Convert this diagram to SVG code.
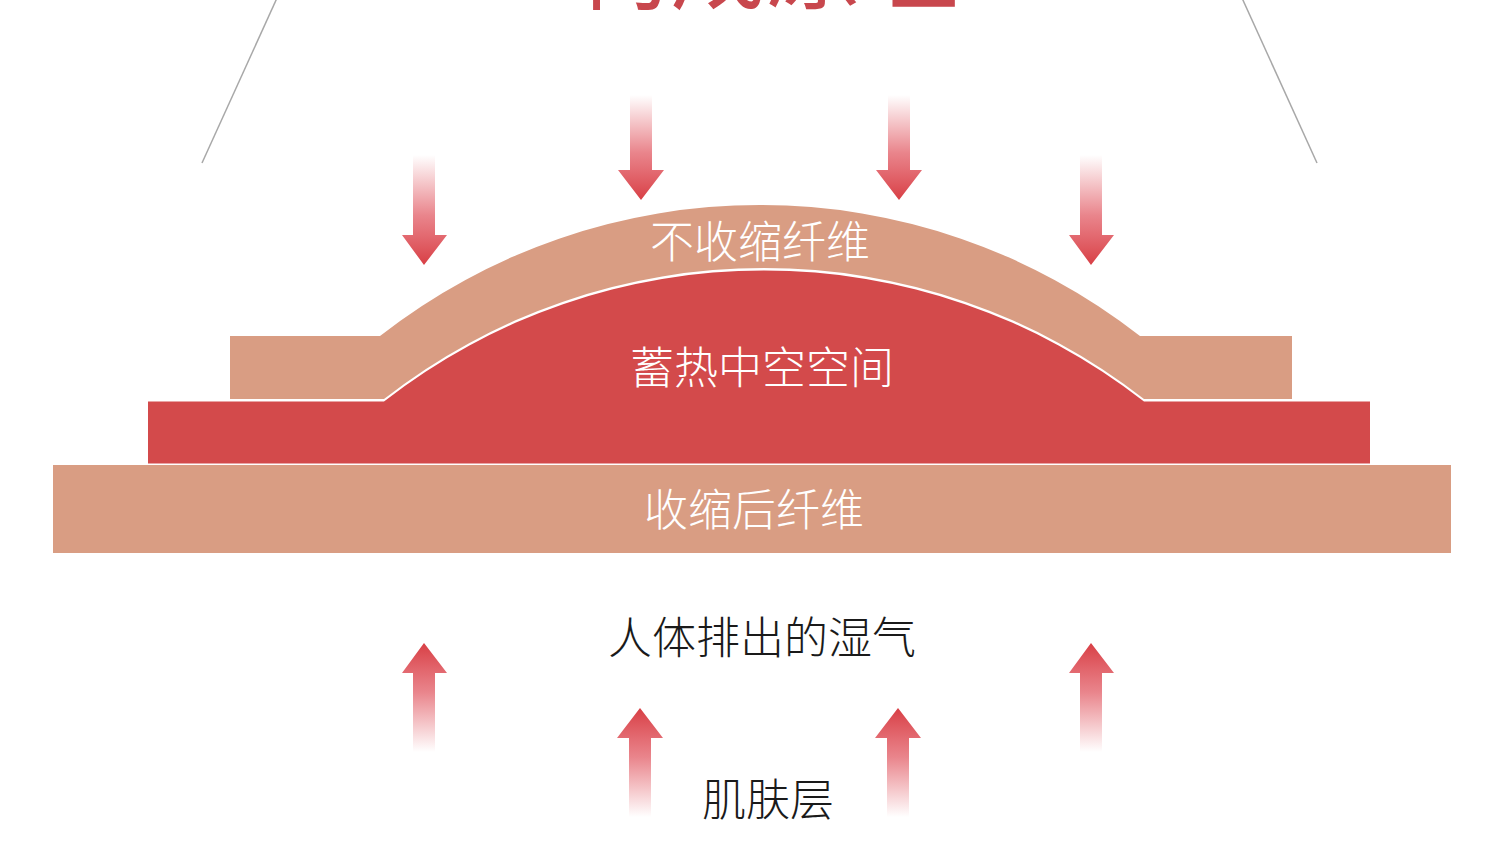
<svg xmlns="http://www.w3.org/2000/svg" width="1500" height="849" viewBox="0 0 1500 849">
<style>
.lbl{font-family:"Noto Sans CJK SC","Noto Sans CJK JP",sans-serif;font-size:44px;font-weight:300;text-anchor:middle}
.w{fill:#ffffff}
.k{fill:#1a1a1a}
.tan{fill:#d99d83}
.red{fill:#d34a4b}
.guide{stroke:#a8a8a8;stroke-width:1.5;fill:none}
</style>
<defs>
<linearGradient id="gDown" x1="0" y1="0" x2="0" y2="1">
<stop offset="0" stop-color="#e0505a" stop-opacity="0"/>
<stop offset="0.55" stop-color="#e0505a" stop-opacity="0.7"/>
<stop offset="1" stop-color="#d83f45" stop-opacity="1"/>
</linearGradient>
<linearGradient id="gUp" x1="0" y1="1" x2="0" y2="0">
<stop offset="0" stop-color="#e0505a" stop-opacity="0"/>
<stop offset="0.55" stop-color="#e0505a" stop-opacity="0.7"/>
<stop offset="1" stop-color="#d83f45" stop-opacity="1"/>
</linearGradient>
</defs>
<rect width="1500" height="849" fill="#ffffff"/>

<g id="title">
<text x="766" y="1" font-family="Noto Sans CJK SC, sans-serif" font-size="96" fill="#c8474d" text-anchor="middle">构成原理</text>
</g>

<g id="guides">
<line class="guide" x1="277" y1="-2" x2="202" y2="163"/>
<line class="guide" x1="1242" y1="-2" x2="1317" y2="163"/>
</g>

<g id="layer-bottom">
<rect class="tan" x="53" y="465" width="1398" height="88"/>
<text class="lbl w" x="754" y="526">收缩后纤维</text>
</g>

<g id="layer-hollow">
<path class="red" d="M148,401.5 H384 A616.6,616.6 0 0 1 1144,401.5 H1370 V463.5 H148 Z"/>
<text class="lbl w" x="762" y="384">蓄热中空空间</text>
</g>

<g id="layer-top">
<path class="tan" d="M230,336 H380 A616.6,616.6 0 0 1 1140,336 H1292 V399 H1144 A616.6,616.6 0 0 0 384,399 H230 Z"/>
<text class="lbl w" x="760" y="258">不收缩纤维</text>
</g>

<g id="arrows">
<g id="down-arrows">
<path fill="url(#gDown)" d="M413,155 H435 V235 H447 L424,265 L402,235 H413 Z"/>
<path fill="url(#gDown)" d="M630,95 H652 V170 H664 L641,200 L618,170 H630 Z"/>
<path fill="url(#gDown)" d="M888,95 H910 V170 H922 L899,200 L876,170 H888 Z"/>
<path fill="url(#gDown)" d="M1080,155 H1102 V235 H1114 L1091,265 L1069,235 H1080 Z"/>
</g>
<g id="up-arrows">
<path fill="url(#gUp)" d="M413,752 H435 V673 H447 L424,643 L402,673 H413 Z"/>
<path fill="url(#gUp)" d="M629,817 H651 V738 H663 L640,708 L617,738 H629 Z"/>
<path fill="url(#gUp)" d="M887,817 H909 V738 H921 L898,708 L875,738 H887 Z"/>
<path fill="url(#gUp)" d="M1080,752 H1102 V673 H1114 L1091,643 L1069,673 H1080 Z"/>
</g>
</g>

<g id="moisture">
<text class="lbl k" x="762" y="654">人体排出的湿气</text>
</g>
<g id="skin">
<text class="lbl k" x="768" y="816">肌肤层</text>
</g>
</svg>
